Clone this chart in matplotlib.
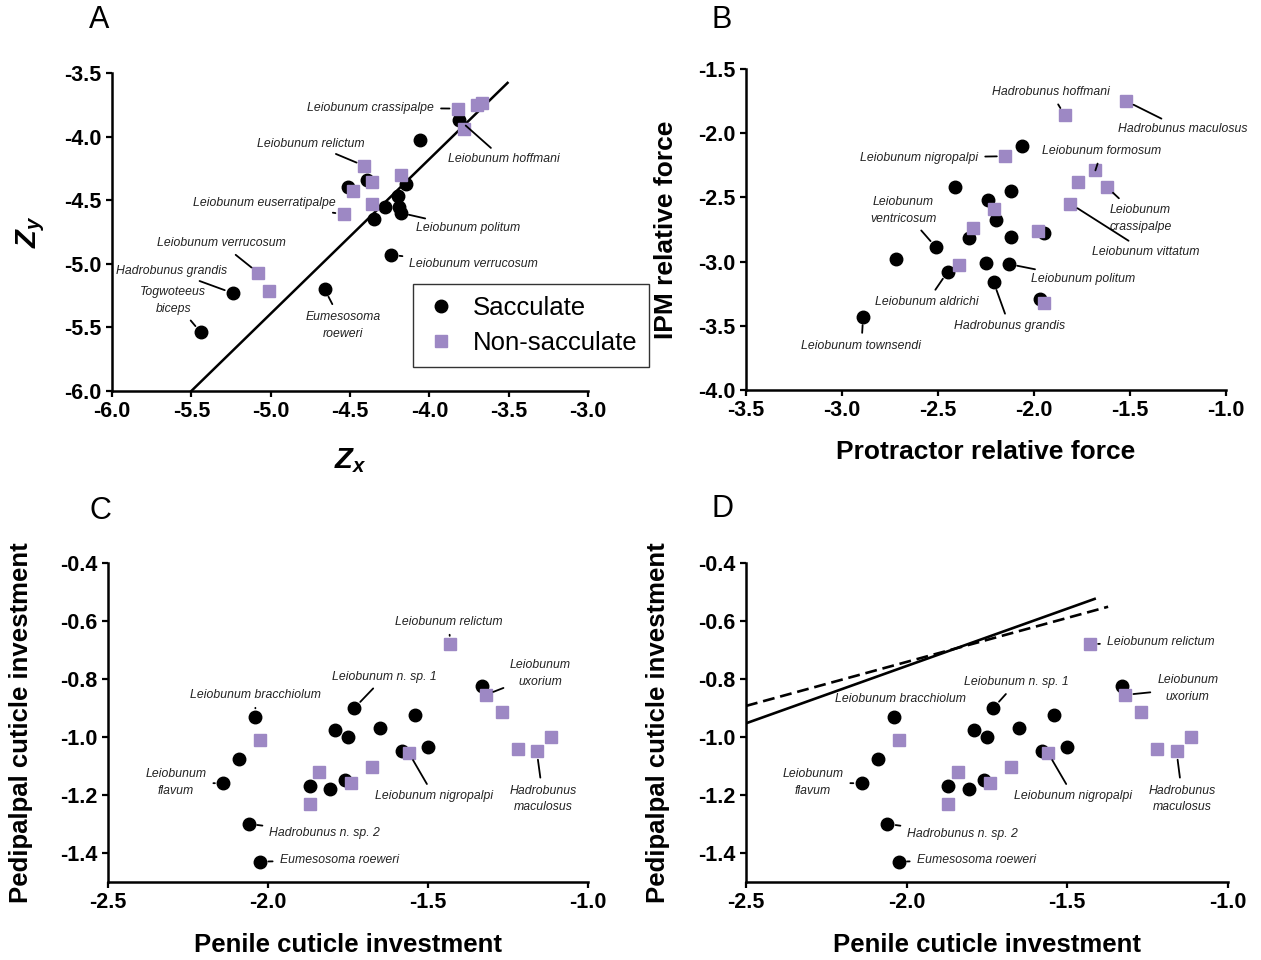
import numpy as np
import matplotlib
matplotlib.use("Agg")
import matplotlib.pyplot as plt

plt.rcParams["font.family"] = ["Liberation Sans", "DejaVu Sans"]
plt.rcParams["mathtext.fontset"] = "custom"
plt.rcParams["mathtext.it"] = "Liberation Sans:italic:bold"
plt.rcParams["mathtext.rm"] = "Liberation Sans:bold"

PURPLE = "#9d88c4"

# Panel A: Zx vs Zy
a_sac_x = [-3.81, -4.06, -4.39, -4.15, -4.51, -4.20, -4.28, -4.19, -4.18, -4.35, -4.24, -4.66, -5.24, -5.44]
a_sac_y = [-3.87, -4.03, -4.34, -4.37, -4.40, -4.47, -4.55, -4.55, -4.60, -4.65, -4.93, -5.20, -5.23, -5.54]
a_non_x = [-3.82, -3.70, -3.67, -3.78, -4.41, -4.36, -4.18, -4.48, -4.36, -4.54, -5.08, -5.01]
a_non_y = [-3.78, -3.75, -3.74, -3.94, -4.23, -4.36, -4.30, -4.43, -4.53, -4.61, -5.07, -5.21]
a_fit_x = [-5.5, -3.507]
a_fit_y = [-6.0, -3.578]

# Panel B: protractor vs IPM relative force
b_sac_x = [-2.06, -2.41, -2.12, -2.24, -2.20, -2.34, -2.12, -1.95, -2.51, -2.72, -2.25, -2.13, -2.45, -2.21, -1.97, -2.89]
b_sac_y = [-2.10, -2.42, -2.45, -2.52, -2.68, -2.82, -2.81, -2.78, -2.89, -2.98, -3.01, -3.02, -3.08, -3.16, -3.29, -3.43]
b_non_x = [-1.52, -1.84, -2.15, -1.68, -1.77, -1.62, -1.81, -2.21, -2.32, -1.98, -2.39, -1.95]
b_non_y = [-1.75, -1.86, -2.18, -2.29, -2.38, -2.42, -2.55, -2.59, -2.74, -2.76, -3.03, -3.32]

# Panels C and D: penile vs pedipalpal cuticle investment
c_sac_x = [-1.33, -2.04, -1.73, -1.54, -1.79, -1.65, -1.75, -1.58, -1.50, -2.09, -2.14, -1.87, -1.805, -1.76, -2.06, -2.025]
c_sac_y = [-0.825, -0.93, -0.90, -0.925, -0.975, -0.97, -1.00, -1.05, -1.035, -1.075, -1.16, -1.17, -1.18, -1.15, -1.30, -1.43]
c_non_x = [-1.43, -1.32, -1.27, -2.025, -1.115, -1.22, -1.16, -1.56, -1.675, -1.84, -1.74, -1.87]
c_non_y = [-0.68, -0.855, -0.915, -1.01, -1.00, -1.04, -1.05, -1.055, -1.105, -1.12, -1.16, -1.23]
d_solid_x = [-2.5, -1.415]
d_solid_y = [-0.953, -0.524]
d_dash_x = [-2.5, -1.373]
d_dash_y = [-0.893, -0.551]

# labels: text, group (s / n), point index, text x, text y, ha
a_labels = [
    ("Leiobunum crassipalpe", "n", 0, -3.97, -3.775, "right"),
    ("Leiobunum hoffmani", "s", 0, -3.53, -4.18, "center"),
    ("Leiobunum relictum", "n", 4, -4.745, -4.055, "center"),
    ("Leiobunum euserratipalpe", "n", 9, -4.59, -4.525, "right"),
    ("Leiobunum politum", "s", 8, -4.086, -4.72, "left"),
    ("Leiobunum verrucosum", "s", 10, -4.126, -5.003, "left"),
    ("Leiobunum verrucosum", "n", 10, -5.31, -4.84, "center"),
    ("Hadrobunus grandis", "s", 12, -5.624, -5.055, "center"),
    ("Togwoteeus\nbiceps", "s", 13, -5.613, -5.285, "center"),
    ("Eumesosoma\nroeweri", "s", 11, -4.543, -5.482, "center"),
]
b_labels = [
    ("Hadrobunus hoffmani", "n", 1, -1.913, -1.68, "center"),
    ("Hadrobunus maculosus", "n", 0, -1.225, -1.97, "center"),
    ("Leiobunum nigropalpi", "n", 2, -2.29, -2.19, "right"),
    ("Leiobunum formosum", "n", 3, -1.647, -2.138, "center"),
    ("Leiobunum\ncrassipalpe", "n", 5, -1.446, -2.664, "center"),
    ("Leiobunum vittatum", "n", 6, -1.417, -2.924, "center"),
    ("Leiobunum\nventricosum", "s", 8, -2.68, -2.599, "center"),
    ("Leiobunum politum", "s", 11, -2.015, -3.135, "left"),
    ("Leiobunum aldrichi", "s", 12, -2.557, -3.315, "center"),
    ("Hadrobunus grandis", "s", 13, -2.127, -3.505, "center"),
    ("Leiobunum townsendi", "s", 15, -2.899, -3.656, "center"),
]
c_labels = [
    ("Leiobunum relictum", "n", 0, -1.436, -0.603, "center"),
    ("Leiobunum\nuxorium", "n", 1, -1.148, -0.781, "center"),
    ("Leiobunum n. sp. 1", "s", 2, -1.636, -0.792, "center"),
    ("Leiobunum bracchiolum", "s", 1, -2.039, -0.855, "center"),
    ("Leiobunum\nflavum", "s", 10, -2.288, -1.157, "center"),
    ("Leiobunum nigropalpi", "n", 7, -1.481, -1.205, "center"),
    ("Hadrobunus\nmaculosus", "n", 6, -1.14, -1.214, "center"),
    ("Hadrobunus n. sp. 2", "s", 14, -1.996, -1.332, "left"),
    ("Eumesosoma roeweri", "s", 15, -1.964, -1.424, "left"),
]
d_labels = [
    ("Leiobunum relictum", "n", 0, -1.377, -0.673, "left"),
    ("Leiobunum\nuxorium", "n", 1, -1.125, -0.833, "center"),
    ("Leiobunum n. sp. 1", "s", 2, -1.658, -0.811, "center"),
    ("Leiobunum bracchiolum", "s", 1, -2.018, -0.870, "center"),
    ("Leiobunum\nflavum", "s", 10, -2.292, -1.157, "center"),
    ("Leiobunum nigropalpi", "n", 7, -1.481, -1.205, "center"),
    ("Hadrobunus\nmaculosus", "n", 6, -1.141, -1.214, "center"),
    ("Hadrobunus n. sp. 2", "s", 14, -1.998, -1.335, "left"),
    ("Eumesosoma roeweri", "s", 15, -1.969, -1.424, "left"),
]


def style_axes(ax):
    for side in ["top", "right"]:
        ax.spines[side].set_visible(False)
    for side in ["left", "bottom"]:
        ax.spines[side].set_linewidth(1.8)
    ax.tick_params(direction="out", length=4.5, width=1.6, labelsize=15.5, pad=3)
    for lab in ax.get_xticklabels() + ax.get_yticklabels():
        lab.set_fontweight("bold")


def draw_points(ax, sx, sy, nx, ny):
    ax.plot(sx, sy, "o", color="black", ms=9, ls="none", clip_on=False, zorder=3, label="Sacculate")
    ax.plot(nx, ny, "s", color=PURPLE, ms=8.4, ls="none", clip_on=False, zorder=4, label="Non-sacculate")


def label_points(ax, labels, sx, sy, nx, ny):
    for text, grp, i, tx, ty, ha in labels:
        if grp == "s":
            px, py = sx[i], sy[i]
        else:
            px, py = nx[i], ny[i]
        ax.annotate(
            text,
            xy=(px, py),
            xytext=(tx, ty),
            ha=ha,
            va="center",
            fontsize=8.8,
            style="italic",
            color="#222222",
            linespacing=1.55,
            arrowprops=dict(arrowstyle="-", lw=1.3, color="black", shrinkA=3, shrinkB=6),
            zorder=5,
        )


fig = plt.figure(figsize=(12.61, 9.6), dpi=100)

axA = fig.add_axes([0.0888, 0.5927, 0.3775, 0.3313])
axB = fig.add_axes([0.5916, 0.5938, 0.3806, 0.3344])
axC = fig.add_axes([0.0857, 0.0813, 0.3806, 0.3323])
axD = fig.add_axes([0.5916, 0.0813, 0.3822, 0.3323])

# Panel A
draw_points(axA, a_sac_x, a_sac_y, a_non_x, a_non_y)
axA.plot(a_fit_x, a_fit_y, color="black", lw=1.8, zorder=2)
label_points(axA, a_labels, a_sac_x, a_sac_y, a_non_x, a_non_y)
axA.set_xlim(-6.0, -3.0)
axA.set_ylim(-6.0, -3.5)
axA.set_xticks(np.arange(-6.0, -2.9, 0.5))
axA.set_yticks(np.arange(-6.0, -3.4, 0.5))
axA.set_xticklabels(["%.1f" % v for v in np.arange(-6.0, -2.9, 0.5)])
axA.set_yticklabels(["%.1f" % v for v in np.arange(-6.0, -3.4, 0.5)])
axA.set_xlabel(r"$Z_x$", fontsize=21)
axA.set_ylabel(r"$Z_y$", fontsize=21)
axA.xaxis.set_label_coords(0.5, -0.175)
axA.yaxis.set_label_coords(-0.137, 0.5)
leg = axA.legend(
    loc="upper left",
    bbox_to_anchor=(0.632, 0.336),
    borderaxespad=0,
    fontsize=18.5,
    fancybox=False,
    edgecolor="black",
    handletextpad=0.6,
    borderpad=0.45,
    labelspacing=0.45,
    handlelength=1.3,
)
leg.get_frame().set_linewidth(1.0)
style_axes(axA)

# Panel B
draw_points(axB, b_sac_x, b_sac_y, b_non_x, b_non_y)
label_points(axB, b_labels, b_sac_x, b_sac_y, b_non_x, b_non_y)
axB.set_xlim(-3.5, -1.0)
axB.set_ylim(-4.0, -1.5)
axB.set_xticks(np.arange(-3.5, -0.9, 0.5))
axB.set_yticks(np.arange(-4.0, -1.4, 0.5))
axB.set_xticklabels(["%.1f" % v for v in np.arange(-3.5, -0.9, 0.5)])
axB.set_yticklabels(["%.1f" % v for v in np.arange(-4.0, -1.4, 0.5)])
axB.set_xlabel("Protractor relative force", fontsize=19, fontweight="bold")
axB.set_ylabel("IPM relative force", fontsize=19, fontweight="bold")
axB.xaxis.set_label_coords(0.5, -0.155)
axB.yaxis.set_label_coords(-0.142, 0.5)
style_axes(axB)

# Panels C and D
for ax, labels in [(axC, c_labels), (axD, d_labels)]:
    draw_points(ax, c_sac_x, c_sac_y, c_non_x, c_non_y)
    label_points(ax, labels, c_sac_x, c_sac_y, c_non_x, c_non_y)
    ax.set_xlim(-2.5, -1.0)
    ax.set_ylim(-1.5, -0.4)
    ax.set_xticks(np.arange(-2.5, -0.95, 0.5))
    ax.set_yticks([-1.4, -1.2, -1.0, -0.8, -0.6, -0.4])
    ax.set_xticklabels(["%.1f" % v for v in np.arange(-2.5, -0.95, 0.5)])
    ax.set_yticklabels(["-1.4", "-1.2", "-1.0", "-0.8", "-0.6", "-0.4"])
    ax.set_xlabel("Penile cuticle investment", fontsize=18.5, fontweight="bold")
    ax.set_ylabel("Pedipalpal cuticle investment", fontsize=18.5, fontweight="bold")
    ax.xaxis.set_label_coords(0.5, -0.16)
    ax.yaxis.set_label_coords(-0.157, 0.5)
    style_axes(ax)

axD.plot(d_solid_x, d_solid_y, color="black", lw=1.9, zorder=2)
axD.plot(d_dash_x, d_dash_y, color="black", lw=1.9, ls=(0, (4.5, 2.2)), zorder=2)

for letter, x, y in [("A", 0.0785, 0.979), ("B", 0.5726, 0.979), ("C", 0.0793, 0.468), ("D", 0.5726, 0.470)]:
    fig.text(x, y, letter, fontsize=22, ha="center", va="center")

plt.savefig("out.png", dpi=100)
